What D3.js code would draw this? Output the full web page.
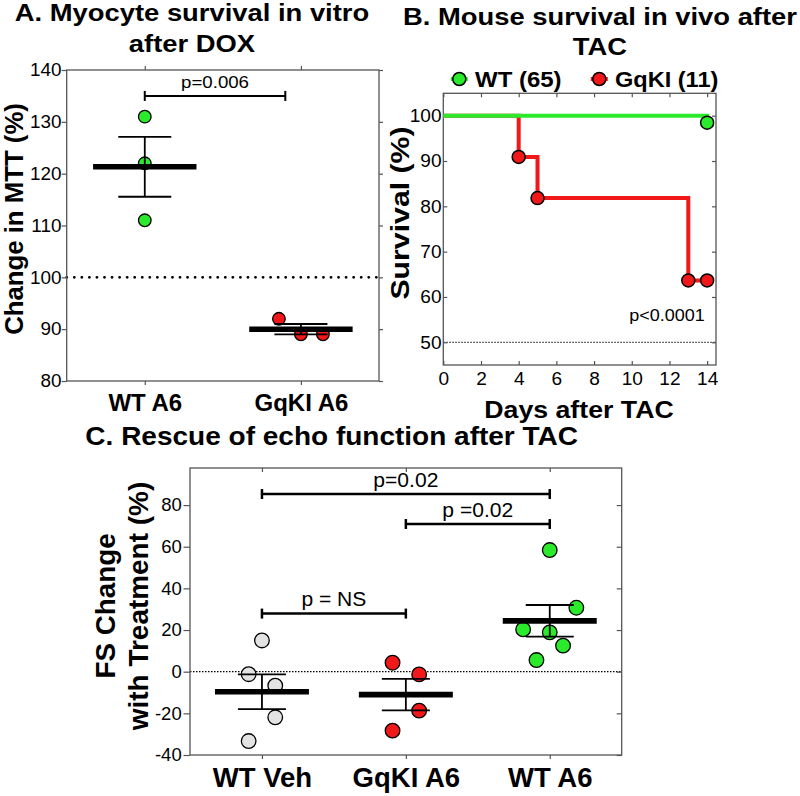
<!DOCTYPE html>
<html><head><meta charset="utf-8">
<script src="https://cdn.jsdelivr.net/npm/d3@7"></script>
<style>html,body{margin:0;padding:0;background:#fff}svg{display:block}text{font-family:"Liberation Sans",Arial,Helvetica,sans-serif}</style>
</head><body><svg id="c" width="800" height="796"></svg>
<script>
// ---------- DATA ----------
// Panel A
const aCategories = ["WT A6", "GqKI A6"];
const aWT = [131, 122, 111];
const aGqKI = [92, 89, 89];
const aSlots = [[0, 0, 0], [-1, 0, 1]];
const aTicks = [80, 90, 100, 110, 120, 130, 140];
const aRef = 100;
const aBracket = { x0: 0, x1: 0.9, y: 135, label: "p=0.006" };
// Panel B
const bDayTicks = [0, 2, 4, 6, 8, 10, 12, 14];
const bSurvTicks = [50, 60, 70, 80, 90, 100];
const bWTDays = [0, 14];
const bWTSurv = [100, 98.46];
const bKIDays = [0, 4, 5, 13, 14];
const bKISurv = [100, 90.91, 81.82, 63.64, 63.64];
const bLegend = ["WT (65)", "GqKI (11)"];
const bRef = 50;
const bPText = "p<0.0001";
// Panel C
const cCategories = ["WT Veh", "GqKI A6", "WT A6"];
const cWTVeh = [15, -1.2, -6.7, -21.9, -33.3];
const cGqKI = [4.3, -1.3, -18.7, -28.3];
const cWTA6 = [58.4, 30.7, 20.3, 18.9, 12.5, 5.6];
const cSlots = [[0, -1, 1, 1, -1], [-1, 1, 1, -1], [0, 2, -2, 0, 1, -1]];
const cTicks = [-40, -20, 0, 20, 40, 60, 80];
const cRef = 0;
const cBrackets = [
  { x0: 0, x1: 2, y: 85.3, label: "p=0.02" },
  { x0: 1, x1: 2, y: 70.9, label: "p =0.02" },
  { x0: 0, x1: 1, y: 27.9, label: "p = NS" }
];

// ---------- STYLE ----------
const GREEN = "#2bea2b", RED = "#f01818", GRAY = "#e3e3e3", FRAME = "#555";
const plain = d => String(d);

const svg = d3.select("#c");
svg.append("rect").attr("width", 800).attr("height", 796).attr("fill", "#fff");

function widen(sel, k) {
  sel.each(function () {
    const l = this.getComputedTextLength();
    this.setAttribute("textLength", l * k);
    this.setAttribute("lengthAdjust", "spacingAndGlyphs");
  });
}
function label(g, o) {
  const t = g.append("text").attr("font-size", o.size)
    .attr("font-weight", o.bold ? "bold" : "normal")
    .attr("text-anchor", o.anchor || "middle").attr("fill", "#000").text(o.text);
  if (o.rot) t.attr("transform", `translate(${o.x},${o.y}) rotate(-90)`);
  else t.attr("x", o.x).attr("y", o.y);
  if (o.k && o.k !== 1) widen(t, o.k);
  return t;
}
function styleAxis(ax, size, k) {
  ax.select(".domain").remove();
  ax.selectAll("line").attr("stroke", FRAME).attr("stroke-width", 1.2);
  ax.selectAll("text").attr("font-size", size).attr("fill", "#000")
    .style("font-family", '"Liberation Sans",Arial,sans-serif');
  if (k && k !== 1) widen(ax.selectAll("text"), k);
}
function frame(g, x0, x1, y0, y1) {
  g.append("rect").attr("x", x0).attr("y", y0).attr("width", x1 - x0).attr("height", y1 - y0)
    .attr("fill", "none").attr("stroke", FRAME).attr("stroke-width", 1.3);
}
const mean = a => d3.mean(a);
const sem = a => d3.deviation(a) / Math.sqrt(a.length);

function dotGroup(g, x, y, vals, slots, i, step, r, color, barHalf, capHalf, barW) {
  g.selectAll(null).data(vals).enter().append("circle")
    .attr("cx", (d, j) => x(i) + slots[j] * step).attr("cy", d => y(d)).attr("r", r)
    .attr("fill", color).attr("stroke", "#000").attr("stroke-width", 1.3);
  const m = mean(vals), s = sem(vals), cx = x(i);
  const eb = g.append("g").attr("stroke", "#000").attr("stroke-width", 1.8);
  eb.append("line").attr("x1", cx).attr("x2", cx).attr("y1", y(m - s)).attr("y2", y(m + s));
  [m - s, m + s].forEach(v => eb.append("line").attr("x1", cx - capHalf).attr("x2", cx + capHalf).attr("y1", y(v)).attr("y2", y(v)));
  g.append("line").attr("x1", cx - barHalf).attr("x2", cx + barHalf).attr("y1", y(m)).attr("y2", y(m))
    .attr("stroke", "#000").attr("stroke-width", barW);
}
function bracket(g, x, y, b, sw, tick, gap, size, k) {
  const yy = y(b.y), xa = x(b.x0), xb = x(b.x1);
  const bg = g.append("g").attr("stroke", "#000").attr("stroke-width", sw);
  bg.append("line").attr("x1", xa).attr("x2", xb).attr("y1", yy).attr("y2", yy);
  [xa, xb].forEach(xx => bg.append("line").attr("x1", xx).attr("x2", xx).attr("y1", yy - tick).attr("y2", yy + tick));
  label(g, { x: (xa + xb) / 2, y: yy - gap, text: b.label, size: size, k: k });
}

// ---------- PANEL A ----------
{
  const L = 66.7, R = 379, T = 70, B = 381;
  const x = d3.scaleLinear().domain([-0.5, 1.5]).range([L, R]);
  const y = d3.scaleLinear().domain([80, 140]).range([B, T]);
  const g = svg.append("g");
  label(g, { x: 192, y: 20.7, text: "A. Myocyte survival in vitro", size: 23, bold: true, k: 1.19 });
  label(g, { x: 192, y: 51.7, text: "after DOX", size: 23, bold: true, k: 1.19 });
  g.append("line").attr("x1", L).attr("x2", R).attr("y1", y(aRef)).attr("y2", y(aRef))
    .attr("stroke", "#000").attr("stroke-width", 2.8).attr("stroke-linecap", "round").attr("stroke-dasharray", "0.1 7.45");
  frame(g, L, R, T, B);
  styleAxis(g.append("g").attr("transform", `translate(${L},0)`).call(d3.axisLeft(y).tickValues(aTicks).tickFormat(plain).tickSize(5).tickPadding(0.2)), 18, 1.05);
  styleAxis(g.append("g").attr("transform", `translate(${R},0)`).call(d3.axisRight(y).tickValues(aTicks).tickSize(4).tickFormat("")));
  styleAxis(g.append("g").attr("transform", `translate(0,${T})`).call(d3.axisTop(x).tickValues([0, 1]).tickSize(4).tickFormat("")));
  const bx = g.append("g").attr("transform", `translate(0,${B})`).call(d3.axisBottom(x).tickValues([0, 1]).tickSize(4).tickPadding(8.5).tickFormat(i => aCategories[i]));
  styleAxis(bx, 24, 1);
  bx.selectAll("text").attr("font-weight", "bold");
  label(g, { x: 23, y: 219, text: "Change in MTT (%)", size: 25, bold: true, rot: true, k: 1.03 });
  [aWT, aGqKI].forEach((vals, i) => dotGroup(g, x, y, vals, aSlots[i], i, 22, 6.3, i === 0 ? GREEN : RED, 51.7, 26.5, 5.5));
  bracket(g, x, y, aBracket, 2, 5, 8.3, 16.5, 1.13);
}

// ---------- PANEL B ----------
{
  const L = 443.3, R = 716, T = 93.3, B = 365;
  const x = d3.scaleLinear().domain([0, 14.47]).range([L, R]);
  const y = d3.scaleLinear().domain([44.99, 104.94]).range([B, T]);
  const g = svg.append("g");
  label(g, { x: 600, y: 25, text: "B. Mouse survival in vivo after", size: 23, bold: true, k: 1.19 });
  label(g, { x: 600, y: 55, text: "TAC", size: 23, bold: true, k: 1.19 });
  g.append("line").attr("x1", L).attr("x2", R).attr("y1", y(bRef)).attr("y2", y(bRef))
    .attr("stroke", "#000").attr("stroke-width", 1).attr("stroke-dasharray", "1.5 1.5");
  frame(g, L, R, T, B);
  styleAxis(g.append("g").attr("transform", `translate(${L},0)`).call(d3.axisLeft(y).tickValues(bSurvTicks).tickFormat(plain).tickSize(-4).tickPadding(1.8)), 18, 1.06);
  styleAxis(g.append("g").attr("transform", `translate(${R},0)`).call(d3.axisRight(y).tickValues(bSurvTicks).tickSize(-4).tickFormat("")));
  styleAxis(g.append("g").attr("transform", `translate(0,${T})`).call(d3.axisTop(x).tickValues(bDayTicks).tickSize(-4).tickFormat("")));
  styleAxis(g.append("g").attr("transform", `translate(0,${B})`).call(d3.axisBottom(x).tickValues(bDayTicks).tickFormat(plain).tickSize(-4).tickPadding(7.2)), 18, 1.06);
  label(g, { x: 409, y: 213, text: "Survival (%)", size: 25, bold: true, rot: true, k: 1.21 });
  label(g, { x: 579, y: 418.3, text: "Days after TAC", size: 24.5, bold: true, k: 1.09 });
  const line = d3.line().x(d => x(d[0])).y(d => y(d[1])).curve(d3.curveStepAfter);
  const ki = bKIDays.map((d, i) => [d, bKISurv[i]]);
  const wt = bWTDays.map((d, i) => [d, bWTSurv[i]]);
  g.append("path").attr("d", line(ki)).attr("fill", "none").attr("stroke", RED).attr("stroke-width", 4);
  g.append("path").attr("d", line(wt)).attr("fill", "none").attr("stroke", GREEN).attr("stroke-width", 4);
  g.selectAll(null).data(ki.slice(1)).enter().append("circle")
    .attr("cx", d => x(d[0])).attr("cy", d => y(d[1])).attr("r", 6.5)
    .attr("fill", RED).attr("stroke", "#000").attr("stroke-width", 1.5);
  g.selectAll(null).data(wt.slice(1)).enter().append("circle")
    .attr("cx", d => x(d[0])).attr("cy", d => y(d[1])).attr("r", 6.5)
    .attr("fill", GREEN).attr("stroke", "#000").attr("stroke-width", 1.5);
  // legend
  const lg = [{ cx: 459.3, tx: 475, c: GREEN, k: 1.09 }, { cx: 599.3, tx: 615, c: RED, k: 1.07 }];
  bLegend.forEach((t, i) => {
    const o = lg[i];
    g.append("line").attr("x1", o.cx - 8.5).attr("x2", o.cx + 8.5).attr("y1", 79).attr("y2", 79).attr("stroke", o.c).attr("stroke-width", 4);
    g.append("circle").attr("cx", o.cx).attr("cy", 79).attr("r", 6.5).attr("fill", o.c).attr("stroke", "#000").attr("stroke-width", 1.5);
    label(g, { x: o.tx, y: 87.3, text: t, size: 22, bold: true, anchor: "start", k: o.k });
  });
  label(g, { x: 667, y: 320.7, text: bPText, size: 17, k: 1.06 });
}

// ---------- PANEL C ----------
{
  const L = 190, R = 621.7, T = 468, B = 755;
  const x = d3.scaleLinear().domain([-0.5, 2.5]).range([L, R]);
  const y = d3.scaleLinear().domain([-40, 97.8]).range([B, T]);
  const g = svg.append("g");
  label(g, { x: 331.7, y: 445, text: "C. Rescue of echo function after TAC", size: 25, bold: true, k: 1.12 });
  g.append("line").attr("x1", L).attr("x2", R).attr("y1", y(cRef)).attr("y2", y(cRef))
    .attr("stroke", "#000").attr("stroke-width", 1.3).attr("stroke-dasharray", "1.5 1.5");
  frame(g, L, R, T, B);
  styleAxis(g.append("g").attr("transform", `translate(${L},0)`).call(d3.axisLeft(y).tickValues(cTicks).tickFormat(plain).tickSize(6.5).tickPadding(1.8)), 18.5, 1.0);
  styleAxis(g.append("g").attr("transform", `translate(${R},0)`).call(d3.axisRight(y).tickValues(cTicks).tickSize(-5).tickFormat("")));
  styleAxis(g.append("g").attr("transform", `translate(0,${T})`).call(d3.axisTop(x).tickValues([0, 1, 2]).tickSize(-4).tickFormat("")));
  const bx = g.append("g").attr("transform", `translate(0,${B})`).call(d3.axisBottom(x).tickValues([0, 1, 2]).tickSize(4).tickPadding(8.8).tickFormat(i => cCategories[i]));
  styleAxis(bx, 27.5, 1);
  bx.selectAll("text").attr("font-weight", "bold");
  label(g, { x: 115, y: 606, text: "FS Change", size: 27, bold: true, rot: true, k: 1.03 });
  label(g, { x: 148, y: 606, text: "with Treatment (%)", size: 27, bold: true, rot: true, k: 1.035 });
  const cols = [GRAY, RED, GREEN];
  [cWTVeh, cGqKI, cWTA6].forEach((vals, i) => dotGroup(g, x, y, vals, cSlots[i], i, 13.3, 7.3, cols[i], 47, 24, 5.7));
  cBrackets.forEach(b => bracket(g, x, y, b, 2.5, 5, 7.5, 19.5, 1.08));
}
</script></body></html>
